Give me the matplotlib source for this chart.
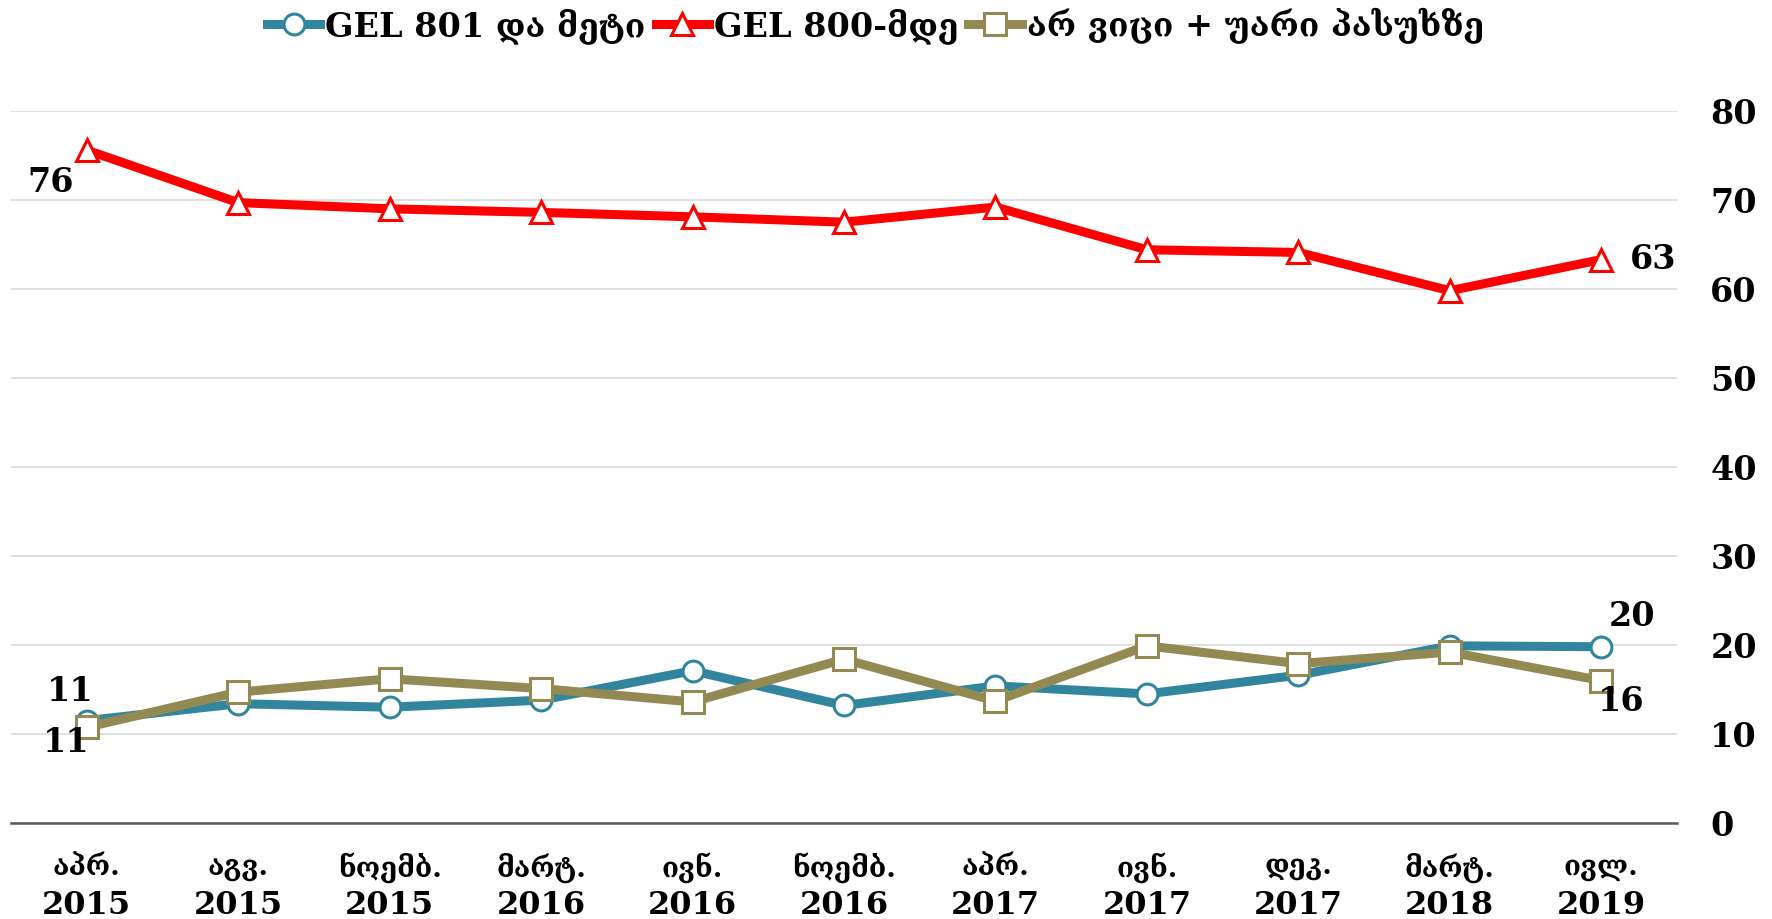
import matplotlib
matplotlib.use('Agg')
import matplotlib.pyplot as plt
import matplotlib.transforms as mtransforms

# fonts: serif with Georgian glyphs
plt.rcParams['font.family'] = ['DejaVu Serif', 'DejaVu Sans']
plt.rcParams['font.weight'] = 'bold'

# datos
meses = ['აპრ.', 'აგვ.', 'ნოემბ.', 'მარტ.', 'ივნ.', 'ნოემბ.', 'აპრ.', 'ივნ.', 'დეკ.', 'მარტ.', 'ივლ.']
anios = ['2015', '2015', '2015', '2016', '2016', '2016', '2017', '2017', '2017', '2018', '2019']

gel_801 = [11.5, 13.4, 13.0, 13.8, 17.1, 13.2, 15.4, 14.5, 16.6, 19.9, 19.8]
gel_800 = [75.6, 69.7, 69.0, 68.6, 68.1, 67.5, 69.2, 64.4, 64.1, 59.8, 63.3]
no_sabe = [10.75, 14.7, 16.2, 15.1, 13.6, 18.4, 13.7, 19.9, 17.9, 19.2, 16.0]

nombres = ['GEL 801 და მეტი', 'GEL 800-მდე', 'არ ვიცი + უარი პასუხზე']
colores = ['#31859C', '#FF0000', '#938953']
marcadores = ['o', '^', 's']

x = list(range(len(meses)))

fig = plt.figure(figsize=(17.72, 9.19), dpi=100)
ax = fig.add_axes([0.0062, 0.1045, 0.9402, 0.7748])

series = [gel_801, gel_800, no_sabe]
tam = [15, 16, 16]
for serie, nombre, color, marca, ms in zip(series, nombres, colores, marcadores, tam):
    ax.plot(x, serie, color=color, linewidth=6.5, marker=marca, markersize=ms,
            markerfacecolor='white', markeredgecolor=color, markeredgewidth=2.2,
            label=nombre, zorder=3)

ax.set_xlim(-0.5, len(meses) - 0.5)
ax.set_ylim(0, 80)
ax.set_yticks(range(0, 81, 10))
ax.yaxis.tick_right()
ax.tick_params(axis='y', length=0, pad=24, labelsize=24)
ax.tick_params(axis='x', length=0, pad=48, labelsize=23)
ax.set_xticks(x, anios)

# meses encima de los años
trans = mtransforms.blended_transform_factory(ax.transData, ax.transAxes)
for i, m in enumerate(meses):
    ax.text(i, -0.063, m, transform=trans, ha='center', va='center', fontsize=20)

ax.grid(axis='y', color='#D9D9D9', linewidth=1.2, zorder=0)
for lado in ['top', 'left', 'right']:
    ax.spines[lado].set_visible(False)
ax.spines['bottom'].set_color('#595959')
ax.spines['bottom'].set_linewidth(1.8)

# etiquetas de valores
def etiqueta(texto, xi, yi, dx, dy):
    ax.annotate(texto, xy=(xi, yi), xytext=(dx, dy), textcoords='offset points',
                ha='center', va='center', fontsize=24, zorder=4)

etiqueta('76', 0, gel_800[0], -26, -23)
etiqueta('63', 10, gel_800[10], 37, 0)
etiqueta('11', 0, gel_801[0], -12, 21)
etiqueta('11', 0, no_sabe[0], -15, -11)
etiqueta('20', 10, gel_801[10], 22, 22)
etiqueta('16', 10, no_sabe[10], 14, -15)

fig.legend(loc='center', bbox_to_anchor=(0.494, 0.972), ncol=3, frameon=False,
           fontsize=24, handlelength=1.6, handletextpad=0.15, columnspacing=0.3)

fig.savefig('out.png', dpi=100)
